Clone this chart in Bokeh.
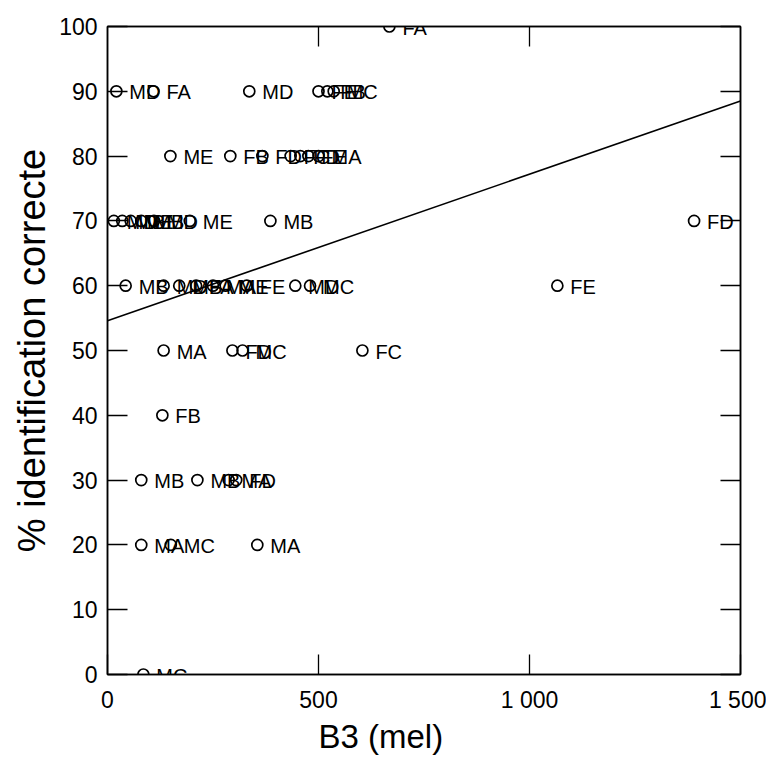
from bokeh.plotting import figure
from bokeh.models import (ColumnDataSource, LinearAxis, FixedTicker, Range1d,
                          LabelSet, Title)
from bokeh.core.properties import value
from bokeh.embed import file_html
from bokeh.resources import INLINE

# data: B3 (mel) vs % identification correcte, with speaker/vowel labels
b3 = [668,
      21, 109, 336, 500, 521, 536,
      149, 291, 367, 434, 457, 476, 500,
      15, 35, 55, 80, 110, 195, 386, 1390,
      43, 133, 170, 210, 250, 280, 330, 445, 480, 1066,
      133, 296, 320, 604,
      130,
      80, 213, 287, 305,
      80, 150, 355,
      85]
pct = [100,
       90, 90, 90, 90, 90, 90,
       80, 80, 80, 80, 80, 80, 80,
       70, 70, 70, 70, 70, 70, 70, 70,
       60, 60, 60, 60, 60, 60, 60, 60, 60, 60,
       50, 50, 50, 50,
       40,
       30, 30, 30, 30,
       20, 20, 20,
       0]
labels = ["FA",
          "MD", "FA", "MD", "FE", "FB", "MC",
          "ME", "FB", "FD", "FC", "FD", "FE", "MA",
          "MD", "MB", "ME", "MB", "MD", "ME", "MB", "FD",
          "MB", "MD", "MB", "FA", "MA", "ME", "FE", "MD", "MC", "FE",
          "MA", "FD", "MC", "FC",
          "FB",
          "MB", "MB", "MA", "FD",
          "MA", "MC", "MA",
          "MC"]

# regression line endpoints
line_x = [0, 1500]
line_y = [54.6, 88.5]

x_ticks = [0, 500, 1000, 1500]
x_tick_labels = ["0", "500", "1 000", "1 500"]
y_ticks = list(range(0, 101, 10))
x_title = "B3 (mel)"
y_title = "% identification correcte"

FONT = "Liberation Sans"

src = ColumnDataSource(dict(x=b3, y=pct, t=labels))

p = figure(width=766, height=756, output_backend="svg", toolbar_location=None,
           x_range=Range1d(0, 1500), y_range=Range1d(0, 100),
           min_border_left=107, min_border_right=26, min_border_top=26,
           min_border_bottom=82)
p.grid.visible = False
p.outline_line_color = "black"
p.outline_line_width = 1.5
p.background_fill_color = "white"
p.border_fill_color = "white"

p.line(line_x, line_y, line_color="black", line_width=1.6)
p.scatter("x", "y", source=src, size=11, fill_color=None, line_color="black",
          line_width=1.7)
p.add_layout(LabelSet(x="x", y="y", text="t", source=src, x_offset=13,
                      y_offset=-1, text_baseline="middle", text_align="left",
                      text_font=value(FONT), text_font_size=value("20px"),
                      text_color="black"))

xa = p.xaxis[0]
xa.ticker = FixedTicker(ticks=x_ticks)
xa.major_label_overrides = {t: l for t, l in zip(x_ticks, x_tick_labels)}
ya = p.yaxis[0]
ya.ticker = FixedTicker(ticks=y_ticks)
ya.axis_label = y_title

for ax in (xa, ya):
    ax.major_tick_in = 20
    ax.major_tick_out = 0
    ax.minor_tick_in = 0
    ax.minor_tick_out = 0
    ax.axis_line_color = "black"
    ax.axis_line_width = 1.5
    ax.major_tick_line_color = "black"
    ax.major_tick_line_width = 1.3
    ax.major_label_text_font = FONT
    ax.major_label_text_font_size = "23px"
    ax.major_label_text_color = "black"
    ax.axis_label_text_font = FONT
    ax.axis_label_text_font_style = "normal"
    ax.axis_label_text_color = "black"
ya.axis_label_text_font_size = "38px"
xa.major_label_standoff = 12
ya.major_label_standoff = 10
ya.axis_label_standoff = 3

# x-axis title, set a little left of the frame centre as in the original
p.add_layout(Title(text=x_title, align="left", offset=211, standoff=0,
                   text_font=FONT, text_font_size="33px",
                   text_font_style="normal", text_color="black"), "below")

for loc, ticks in (("right", y_ticks), ("above", [500, 1000])):
    ax = LinearAxis(ticker=FixedTicker(ticks=ticks),
                    major_label_overrides={t: "" for t in ticks},
                    major_tick_in=20, major_tick_out=0, minor_tick_in=0,
                    minor_tick_out=0, axis_line_color="black",
                    axis_line_width=1.5, major_tick_line_color="black",
                    major_tick_line_width=1.3, major_label_standoff=0)
    p.add_layout(ax, loc)

open("out.html", "w").write(file_html(p, INLINE))
